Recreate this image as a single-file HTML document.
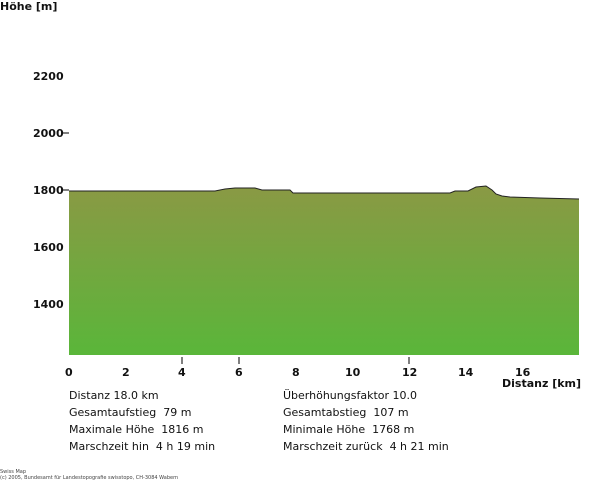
<!DOCTYPE html>
<html><head><meta charset="utf-8"><style>
body{margin:0;width:600px;height:491px;background:#fff;font-family:"DejaVu Sans","Liberation Sans",sans-serif;position:relative;overflow:hidden}
.t{position:absolute;font-size:11px;color:#111;white-space:nowrap}
.b{font-weight:bold}
</style></head><body>
<svg width="600" height="491" style="position:absolute;left:0;top:0">
<defs><linearGradient id="g" x1="0" y1="0" x2="0" y2="1"><stop offset="0" stop-color="#8a9944"/><stop offset="1" stop-color="#5ab63a"/></linearGradient></defs>
<path d="M69,191 L215,191 L225,189 L235,188 L255,188 L262,190 L290,190 L293,193 L450,193 L455,191 L468,191 L476,187 L486,186 L492,190 L496,194 L502,196 L510,197 L540,198 L579,199 L579,355 L69,355 Z" fill="url(#g)"/>
<path d="M69,191 L215,191 L225,189 L235,188 L255,188 L262,190 L290,190 L293,193 L450,193 L455,191 L468,191 L476,187 L486,186 L492,190 L496,194 L502,196 L510,197 L540,198 L579,199" fill="none" stroke="#222" stroke-width="1"/>
<line x1="62" y1="133" x2="69" y2="133" stroke="#000"/>
<line x1="62" y1="190" x2="69" y2="190" stroke="#000"/>
<line x1="182" y1="357" x2="182" y2="364" stroke="#000"/>
<line x1="239" y1="357" x2="239" y2="364" stroke="#000"/>
<line x1="409" y1="357" x2="409" y2="364" stroke="#000"/>
</svg>
<div class="t b" style="left:0;top:0">Höhe [m]</div>
<div class="t b" style="left:33;top:70px;left:33px">2200</div>
<div class="t b" style="left:33px;top:127px">2000</div>
<div class="t b" style="left:33px;top:184px">1800</div>
<div class="t b" style="left:33px;top:241px">1600</div>
<div class="t b" style="left:33px;top:298px">1400</div>
<div class="t b" style="left:65px;top:366px">0</div>
<div class="t b" style="left:122px;top:366px">2</div>
<div class="t b" style="left:178px;top:366px">4</div>
<div class="t b" style="left:235px;top:366px">6</div>
<div class="t b" style="left:292px;top:366px">8</div>
<div class="t b" style="left:345px;top:366px">10</div>
<div class="t b" style="left:402px;top:366px">12</div>
<div class="t b" style="left:458px;top:366px">14</div>
<div class="t b" style="left:515px;top:366px">16</div>
<div class="t b" style="left:502px;top:377px">Distanz [km]</div>
<div class="t" style="left:69px;top:389px">Distanz 18.0 km</div>
<div class="t" style="left:69px;top:406px">Gesamtaufstieg&nbsp; 79 m</div>
<div class="t" style="left:69px;top:423px">Maximale Höhe&nbsp; 1816 m</div>
<div class="t" style="left:69px;top:440px">Marschzeit hin&nbsp; 4 h 19 min</div>
<div class="t" style="left:283px;top:389px">Überhöhungsfaktor 10.0</div>
<div class="t" style="left:283px;top:406px">Gesamtabstieg&nbsp; 107 m</div>
<div class="t" style="left:283px;top:423px">Minimale Höhe&nbsp; 1768 m</div>
<div class="t" style="left:283px;top:440px">Marschzeit zurück&nbsp; 4 h 21 min</div>
<div class="t" style="left:0;top:469px;font-size:5px;color:#444">Swiss Map</div>
<div class="t" style="left:0;top:475px;font-size:5px;color:#444">(c) 2005, Bundesamt für Landestopografie swisstopo, CH-3084 Wabern</div>
</body></html>
